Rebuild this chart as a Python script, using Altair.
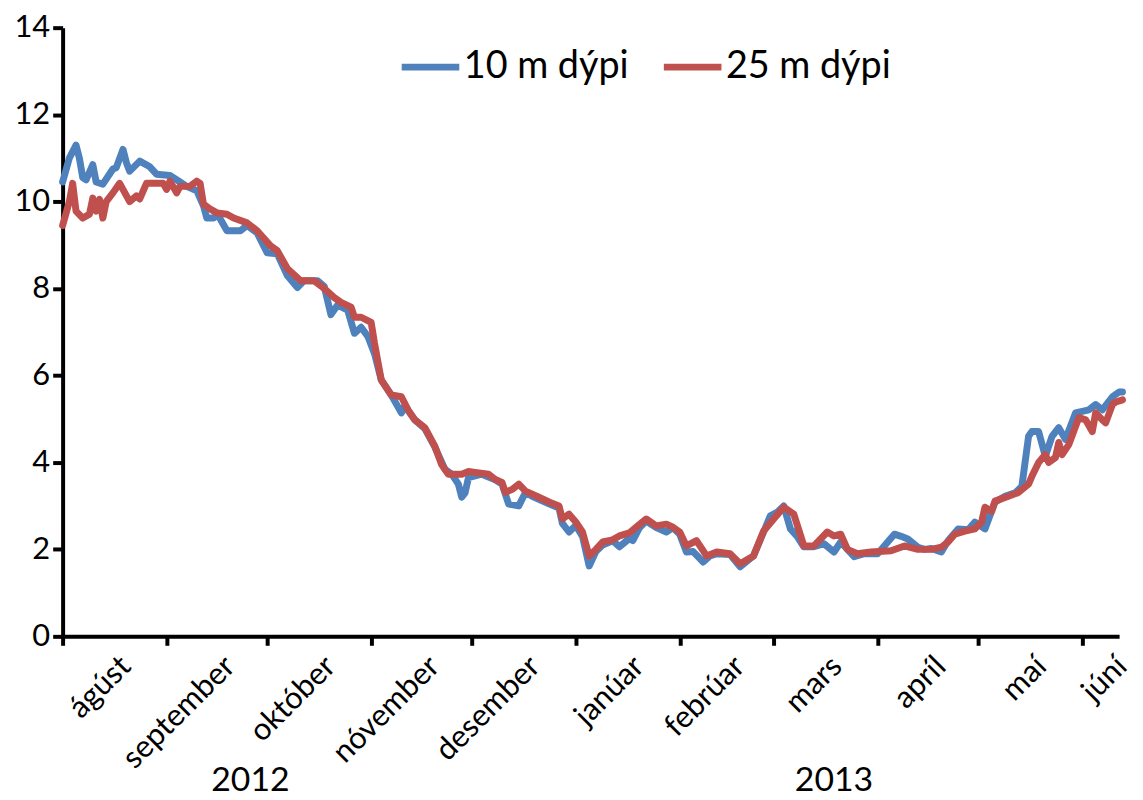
import altair as alt
import pandas as pd

# ---- data (day offset from 1 Aug 2012, temperature °C) ----
days_10 = [0, 2, 4, 5, 6, 7, 9, 10, 12, 15, 16, 18, 19, 20, 23, 26, 28, 32, 35, 37,
           40, 42, 43, 45, 46, 47, 49, 53, 55, 58, 61, 64, 67, 70, 72, 76, 78, 80, 82, 85,
           87, 89, 91, 93, 95, 98, 101, 102, 105, 108, 111, 114, 116, 118, 119, 120, 121, 125, 129, 131,
           133, 136, 138, 140, 142, 145, 148, 149, 151, 153, 155, 157, 159, 161, 164, 166, 169, 170, 172, 174,
           177, 180, 182, 184, 186, 188, 191, 193, 195, 199, 202, 206, 209, 211, 213, 215, 217, 219, 221, 224,
           227, 230, 232, 234, 236, 239, 243, 246, 248, 250, 252, 255, 257, 259, 262, 264, 267, 270, 272, 275,
           278, 281, 284, 286, 288, 289, 291, 293, 295, 297, 299, 302, 306, 308, 310, 313, 315, 316]
vals_10 = [10.45, 11.0, 11.3, 11.0, 10.55, 10.5, 10.85, 10.45, 10.4, 10.75, 10.78, 11.2, 10.9, 10.7, 10.93, 10.8, 10.63, 10.6, 10.45, 10.35,
           10.25, 9.9, 9.62, 9.62, 9.7, 9.6, 9.33, 9.33, 9.45, 9.28, 8.82, 8.8, 8.3, 8.02, 8.18, 8.18, 8.05, 7.4, 7.62, 7.5,
           6.97, 7.11, 6.9, 6.5, 5.9, 5.55, 5.14, 5.3, 4.98, 4.78, 4.35, 3.84, 3.73, 3.5, 3.2, 3.3, 3.65, 3.73, 3.6, 3.5,
           3.04, 3.0, 3.31, 3.22, 3.15, 3.05, 2.95, 2.6, 2.4, 2.55, 2.3, 1.62, 1.95, 2.1, 2.2, 2.06, 2.25, 2.2, 2.5, 2.65,
           2.5, 2.4, 2.5, 2.35, 1.94, 1.95, 1.71, 1.85, 1.9, 1.88, 1.6, 1.85, 2.4, 2.77, 2.85, 3.0, 2.47, 2.3, 2.06, 2.06,
           2.13, 1.94, 2.17, 2.0, 1.83, 1.9, 1.9, 2.17, 2.35, 2.3, 2.24, 2.05, 2.0, 2.02, 1.94, 2.2, 2.47, 2.45, 2.63, 2.47,
           3.09, 3.22, 3.3, 3.45, 4.6, 4.71, 4.71, 4.14, 4.6, 4.8, 4.53, 5.14, 5.21, 5.33, 5.21, 5.51, 5.62, 5.62]

days_25 = [0, 2, 3, 4, 6, 8, 9, 10, 11, 12, 13, 15, 17, 20, 22, 23, 25, 30, 31, 32,
           34, 35, 38, 40, 41, 42, 44, 46, 49, 51, 55, 58, 62, 64, 67, 71, 75, 78, 81, 83,
           86, 87, 89, 92, 93, 95, 98, 101, 103, 105, 108, 111, 113, 115, 119, 121, 123, 127, 129, 131,
           132, 134, 136, 138, 140, 142, 145, 148, 149, 151, 153, 155, 157, 159, 161, 164, 166, 169, 171, 174,
           177, 180, 182, 184, 186, 189, 192, 195, 199, 202, 206, 209, 212, 215, 218, 221, 224, 228, 230, 232,
           234, 237, 241, 247, 251, 255, 259, 262, 264, 266, 269, 272, 274, 275, 277, 278, 282, 285, 288, 289,
           291, 293, 294, 296, 297, 298, 300, 303, 305, 307, 308, 310, 311, 313, 314, 316]
vals_25 = [9.45, 10.0, 10.42, 9.78, 9.62, 9.71, 10.08, 9.78, 10.05, 9.62, 10.0, 10.2, 10.42, 10.0, 10.13, 10.06, 10.42, 10.42, 10.28, 10.47,
           10.2, 10.35, 10.35, 10.47, 10.42, 9.94, 9.83, 9.74, 9.71, 9.62, 9.51, 9.33, 8.98, 8.87, 8.46, 8.18, 8.18, 8.0, 7.79, 7.68,
           7.57, 7.34, 7.34, 7.22, 6.74, 5.9, 5.55, 5.51, 5.21, 4.98, 4.8, 4.37, 3.95, 3.73, 3.73, 3.79, 3.77, 3.73, 3.61, 3.54,
           3.31, 3.38, 3.5, 3.34, 3.27, 3.2, 3.09, 3.0, 2.7, 2.81, 2.63, 2.4, 1.85, 2.0, 2.17, 2.22, 2.31, 2.38, 2.51, 2.7,
           2.54, 2.58, 2.51, 2.4, 2.08, 2.2, 1.85, 1.94, 1.9, 1.67, 1.85, 2.42, 2.7, 2.97, 2.81, 2.08, 2.08, 2.4, 2.31, 2.35,
           2.0, 1.9, 1.94, 1.97, 2.08, 2.0, 2.0, 2.05, 2.17, 2.35, 2.42, 2.47, 2.63, 2.97, 2.88, 3.11, 3.22, 3.31, 3.5, 3.68,
           4.0, 4.18, 4.0, 4.11, 4.46, 4.18, 4.41, 5.03, 4.98, 4.71, 5.14, 4.98, 4.91, 5.33, 5.39, 5.44]

series_names = ["10 m dýpi", "25 m dýpi"]
series_colors = ["#4F81BD", "#C0504D"]

month_names = ["ágúst", "september", "október", "nóvember", "desember", "janúar",
               "febrúar", "mars", "apríl", "maí", "júní"]
month_mid = ["2012-08-16", "2012-09-16", "2012-10-16", "2012-11-16", "2012-12-16", "2013-01-16",
             "2013-02-15", "2013-03-16", "2013-04-16", "2013-05-16", "2013-06-09"]
year_names = ["2012", "2013"]
year_pos = ["2012-09-26", "2013-03-19"]

base = pd.Timestamp("2012-08-01")

def to_dates(days):
    return [(base + pd.Timedelta(days=d)).strftime("%Y-%m-%dT%H:%M:%S") for d in days]

df = pd.concat([
    pd.DataFrame({"date": to_dates(days_10), "temp": vals_10, "series": series_names[0]}),
    pd.DataFrame({"date": to_dates(days_25), "temp": vals_25, "series": series_names[1]}),
])
df_m = pd.DataFrame({"date": [d + "T00:00:00" for d in month_mid], "label": month_names})
df_y = pd.DataFrame({"date": [d + "T00:00:00" for d in year_pos], "label": year_names})

FONT = "Lato"
W, H = 1064, 613

x_scale = alt.Scale(domain=[alt.DateTime(year=2012, month=8, date=1),
                            alt.DateTime(year=2013, month=6, date=12)], nice=False)

lines = alt.Chart(df).mark_line(strokeWidth=7, strokeJoin="round", strokeCap="round").encode(
    x=alt.X("date:T", scale=x_scale,
            axis=alt.Axis(tickCount={"interval": "month", "step": 1}, labels=False, title=None,
                          grid=False, tickSize=9, tickWidth=4, tickColor="black",
                          domainWidth=4, domainColor="black")),
    y=alt.Y("temp:Q", scale=alt.Scale(domain=[0, 14], nice=False),
            axis=alt.Axis(values=[0, 2, 4, 6, 8, 10, 12, 14], title=None, grid=False,
                          tickSize=10, tickWidth=4, tickColor="black",
                          domainWidth=4, domainColor="black",
                          labelFont=FONT, labelFontSize=31, labelColor="black", labelPadding=3)),
    color=alt.Color("series:N", scale=alt.Scale(domain=series_names, range=series_colors),
                    legend=alt.Legend(orient="none", legendX=338, legendY=7, direction="horizontal",
                                      title=None, symbolType="stroke", symbolSize=3364,
                                      symbolStrokeWidth=7, labelFont=FONT, labelFontSize=38,
                                      labelColor="black", labelOffset=1, columnPadding=20,
                                      labelLimit=500, padding=0)),
)

months = alt.Chart(df_m).mark_text(angle=315, align="right", baseline="top", font=FONT,
                                   fontSize=31, color="black", dx=4).encode(
    x=alt.X("date:T", scale=x_scale),
    y=alt.value(H + 18),
    text="label:N",
)

years = alt.Chart(df_y).mark_text(align="center", baseline="middle", font=FONT,
                                  fontSize=34, color="black").encode(
    x=alt.X("date:T", scale=x_scale),
    y=alt.value(H + 146),
    text="label:N",
)

chart = alt.layer(lines, months, years).properties(
    width=W, height=H,
    autosize=alt.AutoSizeParams(type="none"),
    padding={"left": 55, "top": 17, "right": 16, "bottom": 160},
    background="white",
).configure_view(strokeWidth=0)

chart.save("out.html", embed_options={"renderer": "svg", "actions": False})
